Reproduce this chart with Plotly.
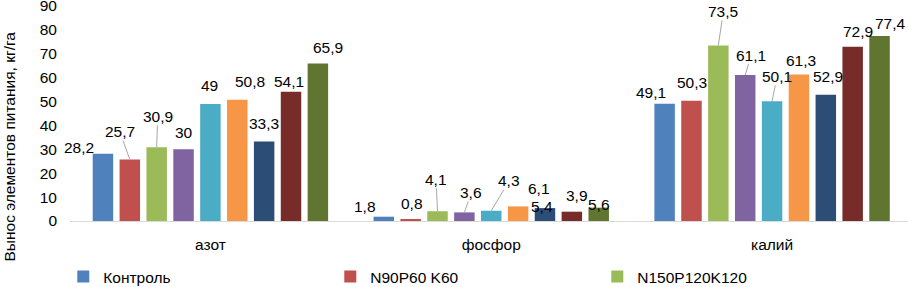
import plotly.graph_objects as go

# ---- data ----
categories = ["азот", "фосфор", "калий"]
series_names = ["Контроль", "N90P60 K60", "N150P120K120",
                "Вариант 4", "Вариант 5", "Вариант 6",
                "Вариант 7", "Вариант 8", "Вариант 9"]
s1 = [28.2, 1.8, 49.1]
s2 = [25.7, 0.8, 50.3]
s3 = [30.9, 4.1, 73.5]
s4 = [30.0, 3.6, 61.1]
s5 = [49.0, 4.3, 50.1]
s6 = [50.8, 6.1, 61.3]
s7 = [33.3, 5.4, 52.9]
s8 = [54.1, 3.9, 72.9]
s9 = [65.9, 5.6, 77.4]
series_values = [s1, s2, s3, s4, s5, s6, s7, s8, s9]
y_title = "Вынос элементов питания, кг/га"

# ---- styling ----
colors = ["#4F81BD", "#C0504D", "#9BBB59", "#8064A2", "#4BACC6",
          "#F79646", "#2C4D75", "#772C2A", "#5F7530"]
legend_visible = [True, True, True, False, False, False, False, False, False]
FONT = "Arial, Liberation Sans, sans-serif"
FS = 15.5
BARGAP = 0.139
BARGROUPGAP = 0.238

# label offsets in pixels (dx, dy, leader line) per series, per category
label_style = [
    [(-24, -6, False), (-19, -10, False), (-13.5, -11, False)],
    [(-10, -28, True), (1, -15.5, False), (1, -18, False)],
    [(1, -31, True), (-1.5, -32, True), (5, -34, True)],
    [(0, -17, False), (7, -20, True), (6, -20, True)],
    [(-1, -18.5, False), (18, -30, True), (5, -25, True)],
    [(13, -18.5, False), (20.5, -18, False), (2, -14.5, False)],
    [(0, -18, False), (-2.5, -2, False), (2, -18, False)],
    [(-2, -10, False), (5, -16, False), (5, -15, False)],
    [(10, -16, False), (0, -3, False), (11, -12.5, False)],
]

n = len(series_values)
xpos = list(range(len(categories)))
slot = (1 - BARGAP) / n

fig = go.Figure()
annotations = []
for i, (name, vals) in enumerate(zip(series_names, series_values)):
    fig.add_trace(go.Bar(
        x=xpos, y=vals, name=name,
        marker=dict(color=colors[i], line=dict(width=0)),
        showlegend=legend_visible[i],
    ))
    for j, v in enumerate(vals):
        dx, dy, leader = label_style[i][j]
        annotations.append(dict(
            x=xpos[j] + (i - (n - 1) / 2) * slot, y=v,
            xref="x", yref="y",
            text=f"{v:g}".replace(".", ","),
            showarrow=True, arrowhead=0, arrowwidth=1, standoff=0,
            arrowcolor="#A6A6A6" if leader else "rgba(0,0,0,0)",
            ax=dx, ay=dy,
            font=dict(family=FONT, size=FS, color="#000000"),
            borderpad=0,
        ))

annotations.append(dict(
    x=-0.072, y=0.345, xref="paper", yref="paper",
    text=y_title, textangle=-90, showarrow=False,
    xanchor="center", yanchor="middle",
    font=dict(family=FONT, size=FS, color="#000000"),
))

fig.update_layout(
    width=908, height=287,
    margin=dict(l=70, r=0, t=6, b=66, autoexpand=False),
    paper_bgcolor="white", plot_bgcolor="white",
    barmode="group", bargap=BARGAP, bargroupgap=BARGROUPGAP,
    font=dict(family=FONT, size=FS, color="#000000"),
    annotations=annotations,
    legend=dict(
        orientation="h", x=-0.008, xanchor="left", y=-0.26, yanchor="middle",
        entrywidth=222, entrywidthmode="pixels",
        font=dict(family=FONT, size=FS, color="#000000"),
        itemwidth=30, tracegroupgap=0,
    ),
    xaxis=dict(
        range=[-0.5, 2.484], tickvals=xpos, ticktext=categories,
        showgrid=False, zeroline=False, showline=True,
        linecolor="#D9D9D9", linewidth=1, ticks="",
        ticklabelstandoff=9,
        tickfont=dict(family=FONT, size=FS, color="#000000"),
    ),
    yaxis=dict(
        range=[0, 90], dtick=10, showgrid=False, zeroline=False,
        showline=False, ticks="", ticklabelstandoff=12,
        ticklabeloverflow="allow",
        tickfont=dict(family=FONT, size=FS, color="#000000"),
    ),
)

fig.write_html(
    "out.html",
    config={"displayModeBar": False},
    post_script="document.body.style.margin='0';document.body.style.overflow='hidden';",
)
